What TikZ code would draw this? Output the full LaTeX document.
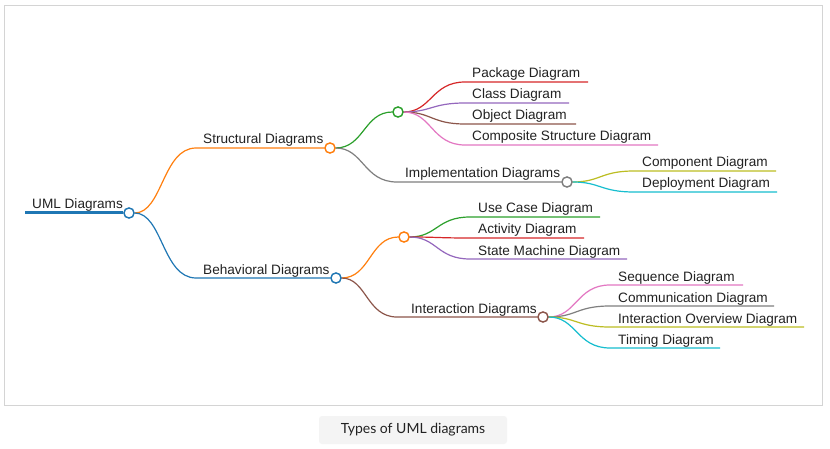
\documentclass[tikz,border=0pt]{standalone}
\usepackage{fontspec}
\setmainfont{Liberation Sans}
\newfontfamily\capfont{Lato}
\usetikzlibrary{calc}
\definecolor{cblue}{HTML}{1F77B4}
\definecolor{corange}{HTML}{FF7F0E}
\definecolor{cgreen}{HTML}{2CA02C}
\definecolor{cred}{HTML}{D62728}
\definecolor{cpurple}{HTML}{9467BD}
\definecolor{cbrown}{HTML}{8C564B}
\definecolor{cpink}{HTML}{E377C2}
\definecolor{cgray}{HTML}{7F7F7F}
\definecolor{colive}{HTML}{BCBD22}
\definecolor{ccyan}{HTML}{17BECF}
\definecolor{txt}{HTML}{222222}
\definecolor{frame}{HTML}{D4D4D4}
\definecolor{capbg}{HTML}{F4F4F4}
\tikzset{
  lnk/.style={to path={let \p1=(\tikztostart), \p2=(\tikztotarget) in
     .. controls ({(\x1+\x2)/2},\y1) and ({(\x1+\x2)/2},\y2) .. (\tikztotarget)}},
  dot/.style={circle, draw=#1, fill=white, line width=1.3pt, inner sep=0pt, minimum size=10pt},
  lbl/.style={anchor=base west, inner sep=0pt, text=txt, font=\fontsize{13.6}{15}\selectfont},
  edge/.style={draw=#1, line width=1.2pt},
}
\begin{document}
\begin{tikzpicture}[x=1pt,y=-1pt]
\useasboundingbox (0,0) rectangle (830,449);
\fill[white] (0,0) rectangle (830,449);
\draw[frame, line width=1pt] (4,6) rectangle (822,405);
% caption
\node[fill=capbg, rounded corners=3pt, minimum width=188pt, minimum height=28pt, inner sep=0pt,
      font=\capfont\fontsize{14}{16}\selectfont, text=txt] (cap) at (413,430) {Types of UML diagrams};

% coordinates of line starts / ends
\coordinate (r0) at (25,213);
\coordinate (s0) at (196,148);
\coordinate (b0) at (196,278);
\coordinate (i0) at (397,182);
\coordinate (n0) at (397,317);
\coordinate (p0) at (465,82);  \coordinate (p1) at (588,82);
\coordinate (k0) at (465,103); \coordinate (k1) at (569,103);
\coordinate (o0) at (465,124); \coordinate (o1) at (576,124);
\coordinate (q0) at (465,145); \coordinate (q1) at (658,145);
\coordinate (c0) at (634,171); \coordinate (c1) at (776,171);
\coordinate (d0) at (634,192); \coordinate (d1) at (777,192);
\coordinate (u0) at (470,217); \coordinate (u1) at (600,217);
\coordinate (a0) at (470,238); \coordinate (a1) at (584,238);
\coordinate (m0) at (470,259); \coordinate (m1) at (627,259);
\coordinate (e0) at (610,285); \coordinate (e1) at (743,285);
\coordinate (h0) at (610,306); \coordinate (h1) at (774,306);
\coordinate (v0) at (610,327); \coordinate (v1) at (804,327);
\coordinate (t0) at (610,348); \coordinate (t1) at (720,348);

% circle nodes
\node[dot=cblue]   (R) at (129,213) {};
\node[dot=corange] (S) at (330,148) {};
\node[dot=cblue]   (B) at (336,278) {};
\node[dot=cgreen]  (G) at (398,112) {};
\node[dot=cgray]   (I) at (567,182) {};
\node[dot=corange] (O) at (404,237) {};
\node[dot=cbrown]  (N) at (543,317) {};

% connectors
\draw[cblue, line width=3pt] (r0) -- (R);
\draw[edge=corange] (R) to[lnk] (s0) -- (S);
\draw[edge=cblue]   (R) to[lnk] (b0) -- (B);
\draw[edge=cgreen]  (S) to[lnk] (G);
\draw[edge=cgray]   (S) to[lnk] (i0) -- (I);
\draw[edge=cred]    (G) to[lnk] (p0) -- (p1);
\draw[edge=cpurple] (G) to[lnk] (k0) -- (k1);
\draw[edge=cbrown]  (G) to[lnk] (o0) -- (o1);
\draw[edge=cpink]   (G) to[lnk] (q0) -- (q1);
\draw[edge=colive]  (I) to[lnk] (c0) -- (c1);
\draw[edge=ccyan]   (I) to[lnk] (d0) -- (d1);
\draw[edge=corange] (B) to[lnk] (O);
\draw[edge=cbrown]  (B) to[lnk] (n0) -- (N);
\draw[edge=cgreen]  (O) to[lnk] (u0) -- (u1);
\draw[edge=cred]    (O) to[lnk] (a0) -- (a1);
\draw[edge=cpurple] (O) to[lnk] (m0) -- (m1);
\draw[edge=cpink]   (N) to[lnk] (e0) -- (e1);
\draw[edge=cgray]   (N) to[lnk] (h0) -- (h1);
\draw[edge=colive]  (N) to[lnk] (v0) -- (v1);
\draw[edge=ccyan]   (N) to[lnk] (t0) -- (t1);
% redraw circles on top
\node[dot=cblue]   at (R) {};
\node[dot=corange] at (S) {};
\node[dot=cblue]   at (B) {};
\node[dot=cgreen]  at (G) {};
\node[dot=cgray]   at (I) {};
\node[dot=corange] at (O) {};
\node[dot=cbrown]  at (N) {};

% labels
\node[lbl] (lR) at (32,209)  {UML Diagrams};
\node[lbl] (lS) at (203,144) {Structural Diagrams};
\node[lbl] (lB) at (203,274) {Behavioral Diagrams};
\node[lbl] (lI) at (405,178) {Implementation Diagrams};
\node[lbl] (lN) at (411,313) {Interaction Diagrams};
\node[lbl] (lp) at (472,78)  {Package Diagram};
\node[lbl] (lk) at (472,99)  {Class Diagram};
\node[lbl] (lo) at (472,120) {Object Diagram};
\node[lbl] (lq) at (472,141) {Composite Structure Diagram};
\node[lbl] (lc) at (642,167) {Component Diagram};
\node[lbl] (ld) at (642,188) {Deployment Diagram};
\node[lbl] (lu) at (478,213) {Use Case Diagram};
\node[lbl] (la) at (478,234) {Activity Diagram};
\node[lbl] (lm) at (478,255) {State Machine Diagram};
\node[lbl] (le) at (618,281) {Sequence Diagram};
\node[lbl] (lh) at (618,302) {Communication Diagram};
\node[lbl] (lv) at (618,323) {Interaction Overview Diagram};
\node[lbl] (lt) at (618,344) {Timing Diagram};
\end{tikzpicture}
\end{document}
